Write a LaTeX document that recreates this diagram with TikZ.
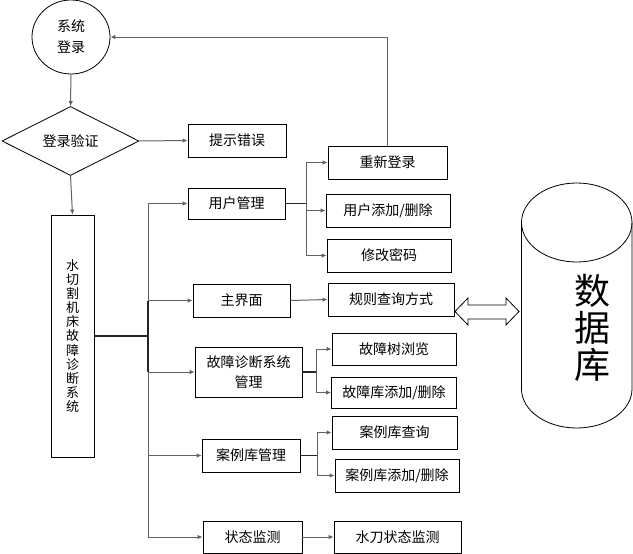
\documentclass[tikz,border=0pt]{standalone}
\usepackage{fontspec}
\setmainfont{Noto Sans CJK SC}
\usetikzlibrary{shapes.geometric,arrows.meta}
\begin{document}
\begin{tikzpicture}[x=1pt,y=-1pt,
  box/.style={draw=black,line width=0.8pt,rectangle,inner sep=0pt,align=center,font=\fontsize{14}{20}\selectfont},
  conn/.style={draw=black!62,line width=1pt},
  arr/.style={conn,-{Latex[length=5pt,width=4.5pt]}},
  hvy/.style={draw=black!85,line width=1.6pt}]
\useasboundingbox (0,0) rectangle (633,554);
% nodes
\node[draw=black,line width=0.8pt,ellipse,minimum width=78pt,minimum height=74pt,inner sep=0pt,align=center,font=\fontsize{14}{21}\selectfont] (login) at (71,37) {系统\\登录};
\node[draw=black,line width=0.8pt,diamond,minimum width=137pt,minimum height=69pt,inner sep=0pt,font=\fontsize{14}{20}\selectfont] (verify) at (70.5,141) {登录验证};
\node[box,minimum width=98pt,minimum height=33pt] (err) at (237,140.5) {提示错误};
\node[box,minimum width=43pt,minimum height=242pt,font=\fontsize{13}{14.1}\selectfont] (sys) at (72.5,336) {水\\切\\割\\机\\床\\故\\障\\诊\\断\\系\\统};
\node[box,minimum width=97pt,minimum height=31pt] (user) at (236.5,203.5) {用户管理};
\node[box,minimum width=97pt,minimum height=33pt] (mainui) at (241.5,300.5) {主界面};
\node[box,minimum width=107pt,minimum height=50pt] (fault) at (248.5,372) {故障诊断系统\\管理};
\node[box,minimum width=98pt,minimum height=33pt] (case) at (251,455.5) {案例库管理};
\node[box,minimum width=99pt,minimum height=32pt] (state) at (252.5,537) {状态监测};
\node[box,minimum width=119pt,minimum height=33pt] (relog) at (387.5,162.5) {重新登录};
\node[box,minimum width=124pt,minimum height=33pt] (useradd) at (388,210.5) {用户添加/删除};
\node[box,minimum width=124pt,minimum height=33pt] (pwd) at (389,255.5) {修改密码};
\node[box,minimum width=126pt,minimum height=33pt] (rule) at (391,299.5) {规则查询方式};
\node[box,minimum width=124pt,minimum height=32pt] (tree) at (394,349) {故障树浏览};
\node[box,minimum width=125pt,minimum height=31pt] (faultadd) at (394,392.5) {故障库添加/删除};
\node[box,minimum width=125pt,minimum height=33pt] (caseq) at (394.5,432.5) {案例库查询};
\node[box,minimum width=124pt,minimum height=33pt] (caseadd) at (397,475.5) {案例库添加/删除};
\node[box,minimum width=127pt,minimum height=32pt] (waterj) at (397.5,537) {水刀状态监测};
% branch coordinates
\coordinate (tx) at (148,0);
\coordinate (ux) at (306,0);
\coordinate (fx) at (316,0);
\coordinate (cx) at (317,0);
\coordinate (fb) at (0,37);
% top flow
\draw[arr] (login) -- (verify);
\draw[arr] (verify.east) -- (err.west);
\draw[arr] (verify.south) -- (sys.north);
\draw[arr] (relog.north) -- (relog.north |- fb) -- (login.east);
% trunk
\draw[conn] (tx |- user.west) -- (tx |- state.west);
\draw[hvy] (tx |- mainui.west) -- (tx |- fault.west);
\draw[hvy] (sys.east |- 0,336) -- (tx |- 0,336);
\draw[arr] (tx |- user.west) -- (user.west);
\draw[arr] (tx |- mainui.west) -- (mainui.west);
\draw[arr] (tx |- fault.west) -- (fault.west);
\draw[arr] (tx |- case.west) -- (case.west);
\draw[arr] (tx |- state.west) -- (state.west);
% user branch
\draw[hvy] (user.east) -- (ux |- user.east);
\draw[conn] (ux |- relog.west) -- (ux |- pwd.west);
\draw[arr] (ux |- relog.west) -- (relog.west);
\draw[arr] (ux |- useradd.west) -- (useradd.west);
\draw[arr] (ux |- pwd.west) -- (pwd.west);
% main ui
\draw[arr] (mainui.east) -- (rule.west);
% fault branch
\draw[hvy] (fault.east) -- (fx |- fault.east);
\draw[conn] (fx |- tree.west) -- (fx |- faultadd.west);
\draw[arr] (fx |- tree.west) -- (tree.west);
\draw[arr] (fx |- faultadd.west) -- (faultadd.west);
% case branch
\draw[hvy] (case.east) -- (cx |- case.east);
\draw[conn] (cx |- caseq.west) -- (cx |- caseadd.west);
\draw[arr] (cx |- caseq.west) -- (caseq.west);
\draw[arr] (cx |- caseadd.west) -- (caseadd.west);
% state
\draw[arr] (state.east) -- (waterj.west);
% double arrow
\draw[line width=0.8pt,fill=white] (455,311.5) -- (468,298) -- (468,305) -- (506,305) -- (506,298) -- (519,311.5) -- (506,325) -- (506,319) -- (468,319) -- (468,325) -- cycle;
% database cylinder
\draw[line width=0.8pt] (521.5,222.5) -- (521.5,389) arc[start angle=180,end angle=360,x radius=55.25pt,y radius=39pt] -- (632,222.5);
\draw[line width=0.8pt] (576.75,222.5) ellipse[x radius=55.25pt,y radius=39.5pt];
\node[align=center,inner sep=0pt,font=\fontsize{36}{37}\selectfont] (db) at (592,328) {数\\据\\库};
\end{tikzpicture}
\end{document}
